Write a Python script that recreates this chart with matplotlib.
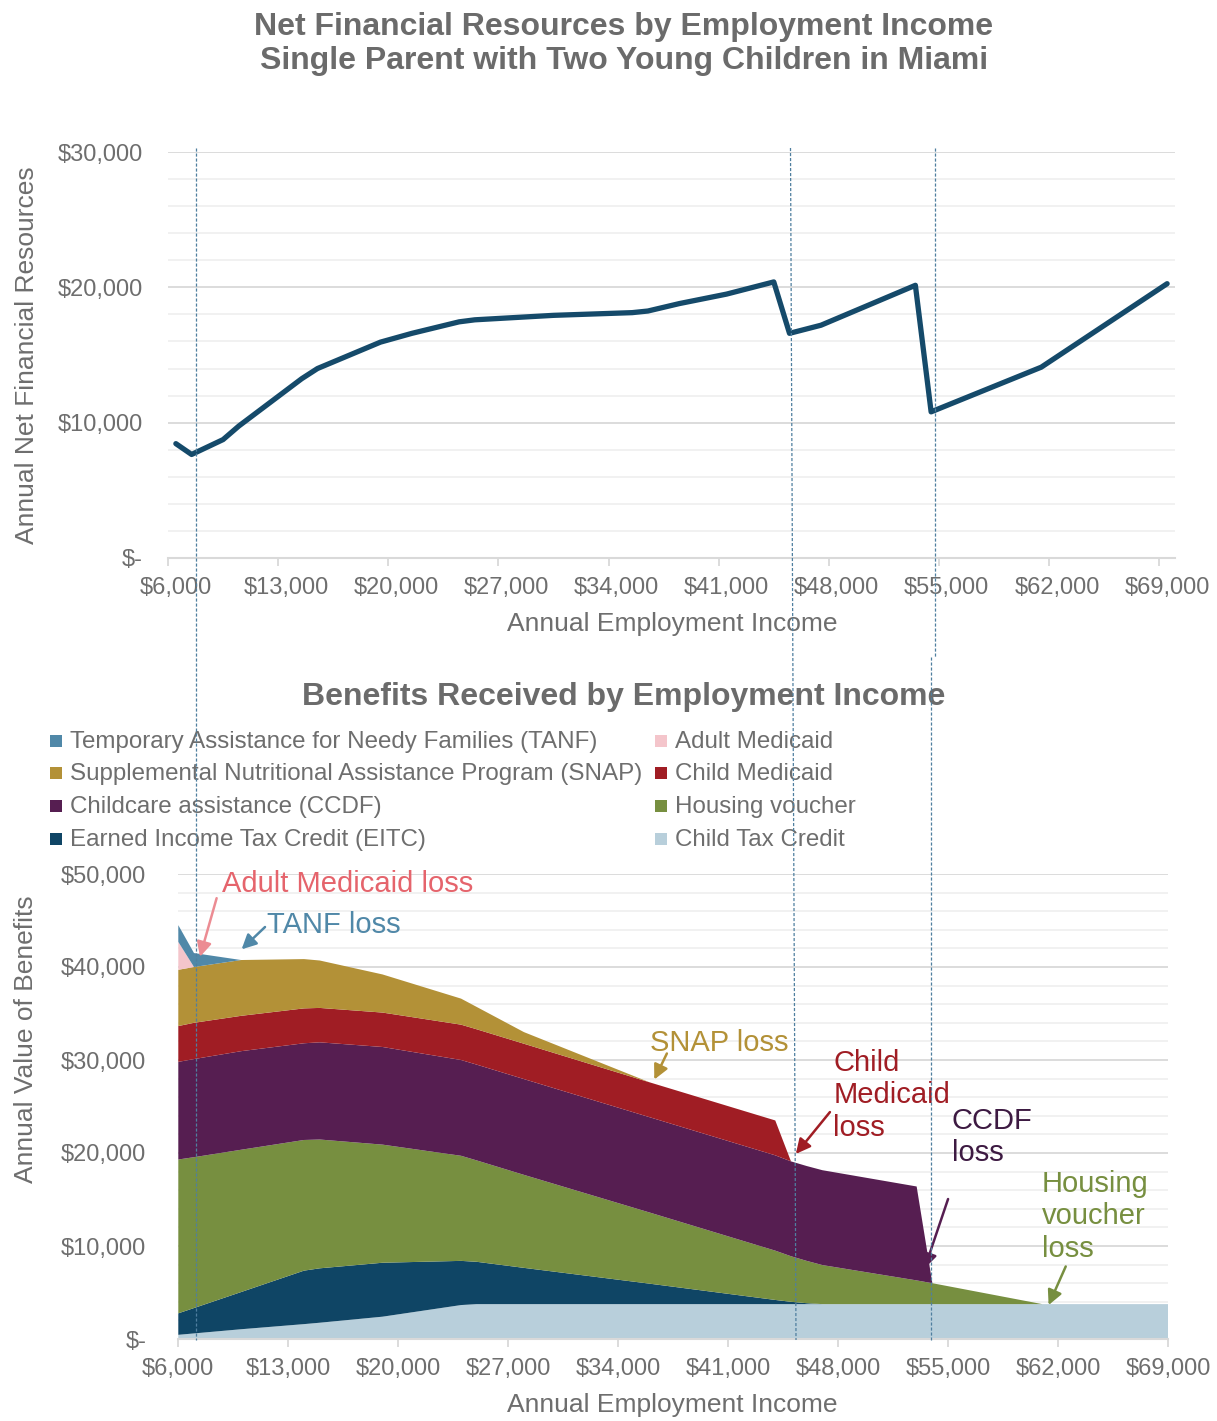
import numpy as np
import matplotlib.pyplot as plt
from matplotlib.lines import Line2D
from matplotlib.patches import Rectangle

plt.rcParams['font.family'] = ['Liberation Sans', 'DejaVu Sans']

W, H = 1217, 1421

# --- net financial resources (top chart) ---
income_net = [6000, 7000, 9000, 10000, 14000, 15000, 19000, 21000, 24000,
              25000, 30000, 35000, 36000, 38000, 41000, 44000, 45000, 47000,
              53000, 54000, 61000, 69000]
net_resources = [8450, 7650, 8750, 9750, 13250, 14000, 15950, 16600, 17450,
                 17600, 17930, 18130, 18250, 18800, 19500, 20400, 16600, 17200,
                 20150, 10800, 14100, 20270]

# --- benefits received (bottom chart) ---
income_ben = [6000, 7000, 10000, 14000, 15000, 19000, 24000, 25000, 28000, 36000,
              44000, 45000, 46000, 47000, 53000, 54000, 61000, 69000]
ctc      = [450, 600, 1050, 1600, 1750, 2400, 3650, 3750, 3750, 3750,
            3750, 3750, 3750, 3750, 3750, 3750, 3750, 3750]
eitc     = [2310, 2730, 4000, 5750, 5850, 5800, 4750, 4550, 3900, 2200,
            450, 250, 100, 0, 0, 0, 0, 0]
housing  = [16540, 16220, 15300, 14050, 13850, 12700, 11300, 10900, 10000, 7650,
            5300, 4900, 4550, 4200, 2550, 2250, 0, 0]
ccdf     = [10500, 10550, 10600, 10400, 10450, 10500, 10300, 10300, 10300, 10250,
            10250, 10200, 10200, 10200, 10100, 0, 0, 0]
child_med = [3850, 3900, 3800, 3750, 3700, 3700, 3800, 3800, 3800, 3750,
             3750, 0, 0, 0, 0, 0, 0, 0]
snap     = [6050, 6000, 6000, 5300, 5100, 4100, 2800, 2400, 1250, 0,
            0, 0, 0, 0, 0, 0, 0, 0]
adult_med = [3000, 0, 0, 0, 0, 0, 0, 0, 0, 0, 0, 0, 0, 0, 0, 0, 0, 0]
tanf     = [1800, 1500, 0, 0, 0, 0, 0, 0, 0, 0, 0, 0, 0, 0, 0, 0, 0, 0]

tick_incomes = list(range(6000, 69001, 7000))
tick_labels = ['${:,}'.format(v) for v in tick_incomes]

col_tanf = '#5088a8'
col_adult = '#f4c5cb'
col_snap = '#b39137'
col_child = '#a01d24'
col_ccdf = '#561e51'
col_house = '#778f40'
col_eitc = '#0f4565'
col_ctc = '#b8cfdb'

gray = '#6e6e6e'
grid_major = '#d9d9d9'
grid_minor = '#f0f0f0'


def fx(px):
    return px / W


def fy(py):
    return 1 - py / H


fig = plt.figure(figsize=(W / 100, H / 100), dpi=100)

# titles
fig.text(fx(624), fy(44), 'Net Financial Resources by Employment Income\nSingle Parent with Two Young Children in Miami',
         ha='center', va='center', fontsize=23, fontweight='bold', color='#6b6b6b', linespacing=1.2)
fig.text(fx(624), fy(697), 'Benefits Received by Employment Income',
         ha='center', va='center', fontsize=23, fontweight='bold', color='#6b6b6b')

# ---------------- top chart ----------------
ax1 = fig.add_axes([fx(168), fy(558), (1175 - 168) / W, (558 - 152) / H])
ax1.plot(income_net, net_resources, color='#154a6a', lw=3.8,
         solid_joinstyle='round', solid_capstyle='round', zorder=3)
ax1.set_xlim(5500, 69500)
ax1.set_ylim(0, 30000)
ax1.set_yticks(range(0, 30001, 10000), ['$-', '$10,000', '$20,000', '$30,000'])
ax1.set_yticks(range(0, 30001, 2000), minor=True)
ax1.set_xticks(np.arange(5500, 69000, 7000), [''] * 10)
ax1.set_xticks(tick_incomes, tick_labels, minor=True)
ax1.grid(axis='y', which='major', color=grid_major, lw=1.3)
ax1.grid(axis='y', which='minor', color=grid_minor, lw=1.3)
ax1.set_axisbelow(True)
ax1.tick_params(axis='x', which='major', length=6, width=1.3, color=grid_major)
ax1.tick_params(axis='x', which='minor', length=0, pad=14, labelsize=17, labelcolor=gray)
ax1.tick_params(axis='y', which='both', length=0, pad=18, labelsize=17, labelcolor=gray)
for s in ['top', 'right', 'left']:
    ax1.spines[s].set_visible(False)
ax1.spines['bottom'].set_color(grid_major)
ax1.spines['bottom'].set_linewidth(1.5)

fig.text(fx(672), fy(624), 'Annual Employment Income', ha='center', va='center', fontsize=19, color=gray)
fig.text(fx(27), fy(355), 'Annual Net Financial Resources', ha='center', va='center',
         rotation=90, fontsize=19, color=gray)

# ---------------- bottom chart ----------------
ax2 = fig.add_axes([fx(178.3), fy(1339), (1168 - 178.3) / W, (1339 - 874) / H])
ax2.stackplot(income_ben, ctc, eitc, housing, ccdf, child_med, snap, adult_med, tanf,
              colors=[col_ctc, col_eitc, col_house, col_ccdf, col_child, col_snap, col_adult, col_tanf],
              linewidth=0, zorder=2)
ax2.set_xlim(6000, 69000)
ax2.set_ylim(0, 50000)
ax2.set_yticks(range(0, 50001, 10000), ['$-', '$10,000', '$20,000', '$30,000', '$40,000', '$50,000'])
ax2.set_yticks(range(0, 50001, 2000), minor=True)
ax2.set_xticks(tick_incomes, tick_labels)
ax2.grid(axis='y', which='major', color=grid_major, lw=1.3)
ax2.grid(axis='y', which='minor', color=grid_minor, lw=1.3)
ax2.set_axisbelow(True)
ax2.tick_params(axis='x', which='major', length=6, width=1.3, color=grid_major, pad=8,
                labelsize=17, labelcolor=gray)
ax2.tick_params(axis='y', which='both', length=0, pad=23, labelsize=17, labelcolor=gray)
for s in ['top', 'right', 'left']:
    ax2.spines[s].set_visible(False)
ax2.spines['bottom'].set_color(grid_major)
ax2.spines['bottom'].set_linewidth(1.5)

fig.text(fx(672), fy(1405), 'Annual Employment Income', ha='center', va='center', fontsize=19, color=gray)
fig.text(fx(26), fy(1039), 'Annual Value of Benefits', ha='center', va='center',
         rotation=90, fontsize=19, color=gray)

# legend (laid out row by row as in the source)
legend_rows = [
    [('Temporary Assistance for Needy Families (TANF)', col_tanf), ('Adult Medicaid', col_adult)],
    [('Supplemental Nutritional Assistance Program (SNAP)', col_snap), ('Child Medicaid', col_child)],
    [('Childcare assistance (CCDF)', col_ccdf), ('Housing voucher', col_house)],
    [('Earned Income Tax Credit (EITC)', col_eitc), ('Child Tax Credit', col_ctc)],
]
row_y = [741, 773, 806, 839]
col_x = [50, 655]
for yy, row in zip(row_y, legend_rows):
    for xx, (label, c) in zip(col_x, row):
        fig.add_artist(Rectangle((fx(xx), fy(yy + 6)), 12 / W, 12 / H, transform=fig.transFigure,
                                 facecolor=c, edgecolor='none'))
        fig.text(fx(xx + 20), fy(yy + 1), label, ha='left', va='center', fontsize=17.4, color=gray)

# annotations
notes = [
    ('Adult Medicaid loss', '#e5646c', '#ec8c93', (8800, 48900), (8440, 47400), (7380, 41100)),
    ('TANF loss', '#5088a8', '#5088a8', (11650, 44500), (11520, 44300), (10030, 41900)),
    ('SNAP loss', '#b39137', '#b39137', (36000, 31800), (37100, 30700), (36300, 27900)),
    ('Child\nMedicaid\nloss', '#a01d24', '#a01d24', (47700, 26200), (47480, 24400), (45310, 19900)),
    ('CCDF\nloss', '#3d1a42', '#561e51', (55250, 21700), (55000, 15050), (53510, 7600)),
    ('Housing\nvoucher\nloss', '#778f40', '#778f40', (60950, 13200), (62490, 7800), (61400, 3650)),
]
for text, tcol, acol, tpos, tail, head in notes:
    ax2.text(tpos[0], tpos[1], text, ha='left', va='center', fontsize=21, color=tcol,
             linespacing=1.2, zorder=5)
    ax2.annotate('', xy=head, xytext=tail,
                 arrowprops=dict(arrowstyle='-|>', color=acol, lw=1.8, mutation_scale=22,
                                 shrinkA=0, shrinkB=0), zorder=5)

# vertical guide lines joining both charts
guide = dict(color='#4f7f9f', lw=0.9, linestyle=(0, (2.5, 1.5)), transform=fig.transFigure, zorder=10)
fig.add_artist(Line2D([fx(195.5), fx(195.5)], [fy(148), fy(1340)], **guide))
fig.add_artist(Line2D([fx(790.5), fx(796)], [fy(148), fy(1340)], **guide))
fig.add_artist(Line2D([fx(934.5), fx(934.5)], [fy(148), fy(657)], **guide))
fig.add_artist(Line2D([fx(931), fx(931)], [fy(657), fy(1340)], **guide))

plt.savefig('out.png', dpi=100)
